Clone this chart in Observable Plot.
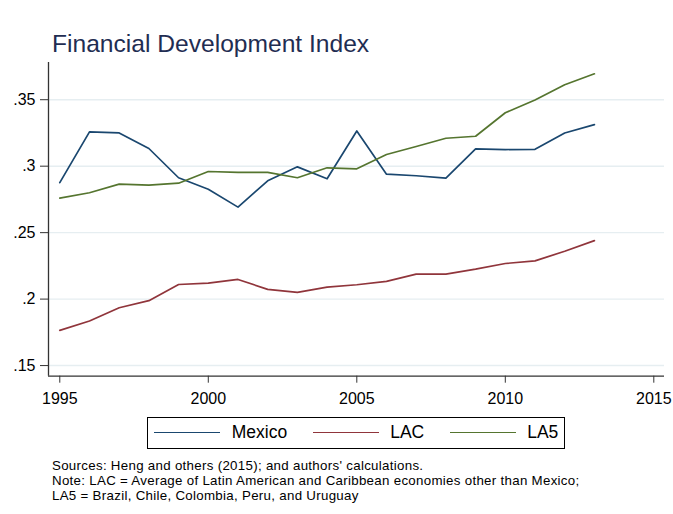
<!DOCTYPE html>
<html>
<head>
<meta charset="utf-8">
<script src="https://cdn.jsdelivr.net/npm/d3@7"></script>
<script src="https://cdn.jsdelivr.net/npm/@observablehq/plot@0.6"></script>
<style>
  html, body { margin: 0; padding: 0; background: #fff; }
  #wrap { position: relative; width: 673px; height: 514px; font-family: "Liberation Sans", Arial, Helvetica, sans-serif; }
  #title { position: absolute; left: 52px; top: 31.5px; font-size: 24.6px; line-height: 24.6px; color: #1f2d52; white-space: nowrap; }
  #legend { position: absolute; left: 146.7px; top: 416.5px; width: 418px; height: 32.5px; box-sizing: border-box; border: 1px solid #000; display: flex; align-items: center; font-size: 17.5px; color: #000; }
  #legend .ln { display: inline-block; width: 65.7px; height: 0; border-top: 1.8px solid; margin-left: 25.7px; }
  #legend .ln.first { margin-left: 6.8px; }
  #legend .tx { margin-left: 11.6px; white-space: nowrap; }
  #notes { position: absolute; left: 52px; top: 457.8px; font-size: 13.3px; letter-spacing: 0.3px; line-height: 15px; color: #000; white-space: nowrap; }
  #chart { position: absolute; left: 0; top: 0; }
</style>
</head>
<body>
<div id="wrap">
  <div id="chart"></div>
  <div id="title"></div>
  <div id="legend"></div>
  <div id="notes"></div>
</div>
<script>
const years = [1995, 1996, 1997, 1998, 1999, 2000, 2001, 2002, 2003, 2004, 2005, 2006, 2007, 2008, 2009, 2010, 2011, 2012, 2013];
const mexico = [0.2876, 0.3258, 0.3250, 0.3133, 0.2913, 0.2827, 0.2692, 0.2890, 0.2995, 0.2905, 0.3265, 0.2940, 0.2928, 0.2910, 0.3130, 0.3125, 0.3127, 0.3250, 0.3313];
const lac = [0.1765, 0.1835, 0.1935, 0.1988, 0.2110, 0.2120, 0.2148, 0.2073, 0.2050, 0.2090, 0.2108, 0.2133, 0.2188, 0.2188, 0.2225, 0.2268, 0.2288, 0.2360, 0.2440];
const la5 = [0.2760, 0.2800, 0.2865, 0.2857, 0.2872, 0.2960, 0.2953, 0.2953, 0.2913, 0.2988, 0.2980, 0.3088, 0.3148, 0.3210, 0.3225, 0.3402, 0.3498, 0.3613, 0.3695];

const seriesNames = ["Mexico", "LAC", "LA5"];
const seriesColors = ["#1a476f", "#90353b", "#55752f"];
const seriesValues = [mexico, lac, la5];

const xTicks = [1995, 2000, 2005, 2010, 2015];
const yTicks = [0.15, 0.2, 0.25, 0.3, 0.35];
const yTickLabels = [".15", ".2", ".25", ".3", ".35"];

const titleText = "Financial Development Index";
const noteLines = [
  "Sources: Heng and others (2015); and authors' calculations.",
  "Note: LAC = Average of Latin American and Caribbean economies other than Mexico;",
  "LA5 = Brazil, Chile, Colombia, Peru, and Uruguay"
];

const xDomain = [1994.62, 2015.36];
const yDomain = [0.142, 0.378];

const data = [];
seriesNames.forEach((name, i) => {
  years.forEach((yr, j) => data.push({series: name, year: yr, value: seriesValues[i][j]}));
});

const axisColor = "#333";
const gridColor = "#e6eef1";

const chart = Plot.plot({
  width: 673,
  height: 410,
  marginLeft: 48,
  marginRight: 9,
  marginTop: 62,
  marginBottom: 34.3,
  style: {fontFamily: "'Liberation Sans', Arial, Helvetica, sans-serif", fontSize: "16px", color: "#000", background: "transparent"},
  x: {domain: xDomain, axis: null},
  y: {domain: yDomain, axis: null},
  color: {domain: seriesNames, range: seriesColors},
  marks: [
    Plot.gridY(yTicks, {stroke: gridColor, strokeOpacity: 1, strokeWidth: 1.4}),
    Plot.axisY(yTicks, {tickFormat: d => yTickLabels[yTicks.indexOf(d)], tickSize: 8, tickPadding: 5, label: null, stroke: axisColor, fontSize: 16}),
    Plot.axisX(xTicks, {tickFormat: d => String(d), tickSize: 7, tickPadding: 9, label: null, stroke: axisColor, fontSize: 16}),
    Plot.ruleX([xDomain[0]], {stroke: axisColor, strokeWidth: 1.3}),
    Plot.ruleY([yDomain[0]], {stroke: axisColor, strokeWidth: 1.3}),
    Plot.line(data, {x: "year", y: "value", z: "series", stroke: "series", strokeWidth: 1.7})
  ]
});
document.getElementById("chart").appendChild(chart);

document.getElementById("title").textContent = titleText;

const legend = document.getElementById("legend");
seriesNames.forEach((name, i) => {
  const ln = document.createElement("span");
  ln.className = "ln" + (i === 0 ? " first" : "");
  ln.style.borderTopColor = seriesColors[i];
  const tx = document.createElement("span");
  tx.className = "tx";
  tx.textContent = name;
  legend.appendChild(ln);
  legend.appendChild(tx);
});

const notes = document.getElementById("notes");
noteLines.forEach(line => {
  const d = document.createElement("div");
  d.textContent = line;
  notes.appendChild(d);
});
</script>
</body>
</html>
